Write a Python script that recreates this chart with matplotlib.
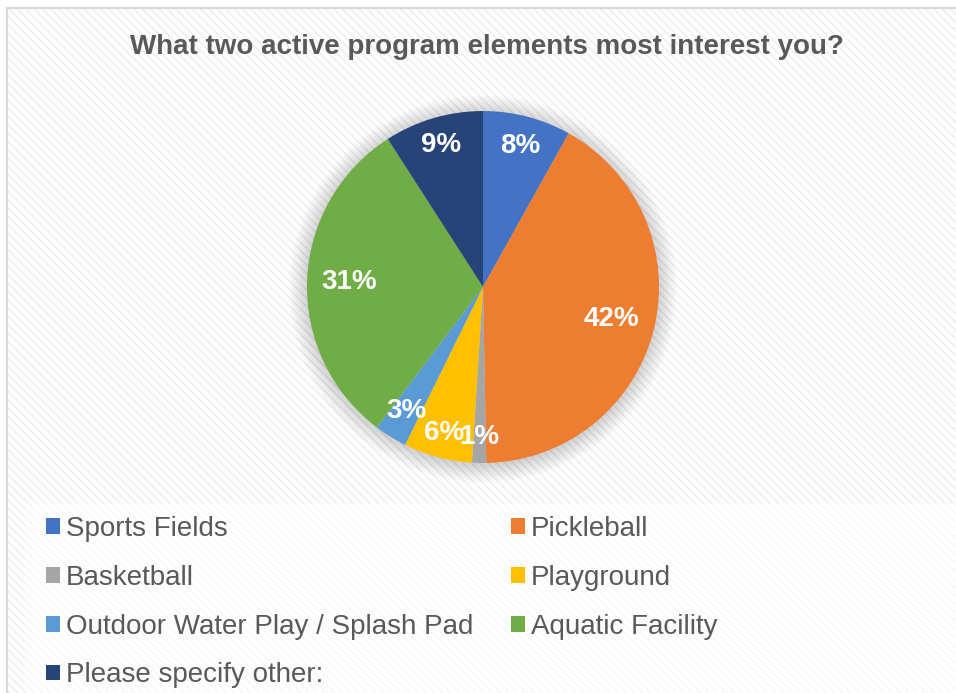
import matplotlib
matplotlib.use("Agg")
import matplotlib.pyplot as plt
from matplotlib.patches import Rectangle, Circle
import numpy as np

plt.rcParams['font.family'] = ['Liberation Sans', 'DejaVu Sans']
plt.rcParams['hatch.linewidth'] = 1.0

title = "What two active program elements most interest you?"
categories = ["Sports Fields", "Pickleball", "Basketball", "Playground",
              "Outdoor Water Play / Splash Pad", "Aquatic Facility",
              "Please specify other:"]
values = [8.1, 41.6, 1.3, 6.3, 3.0, 30.6, 9.1]
colors = ["#4472C4", "#ED7D31", "#A5A5A5", "#FFC000", "#5B9BD5", "#70AD47", "#264478"]
label_dist = [0.83, 0.75, 0.85, 0.86, 0.83, 0.76, 0.84]

W, H = 956, 693
fig = plt.figure(figsize=(W / 100, H / 100), dpi=100)
fig.patch.set_facecolor("white")

# chart area background with faint diagonal stripes
fig.patches.append(Rectangle((7 / W, -0.05), 1.1, (H - 8) / H + 0.05,
                             transform=fig.transFigure, facecolor="white",
                             edgecolor="#ececec", linewidth=0, hatch="\\\\\\\\",
                             zorder=-3))
fig.patches.append(Rectangle((7 / W, -0.05), 1.1, (H - 8) / H + 0.05,
                             transform=fig.transFigure, facecolor="none",
                             edgecolor="#d9d9d9", linewidth=1.5, zorder=-2))
# legend area
fig.patches.append(Rectangle((25 / W, -0.05), 1.1, (H - 503) / H + 0.05,
                             transform=fig.transFigure, facecolor="white",
                             edgecolor="none", alpha=0.6, zorder=-1))

fig.text(486.5 / W, 1 - 47.5 / H, title, ha="center", va="center",
         fontsize=20, fontweight="bold", color="#595959")

cx, cy, R = 483, 287, 176
ext = 1.2
ax = fig.add_axes([(cx - R * ext) / W, (H - cy - R * ext) / H,
                   2 * R * ext / W, 2 * R * ext / H])
ax.set_facecolor("none")

# soft shadow
for k in range(22):
    ax.add_patch(Circle((0, -0.01), 1.0 + k * 0.005, facecolor="#000000",
                        alpha=0.008, edgecolor="none", zorder=0))

wedges, _ = ax.pie(values, colors=colors, startangle=90, counterclock=False,
                   radius=1.0, wedgeprops=dict(linewidth=0, zorder=2))
for w in wedges:
    w.set_zorder(2)

total = sum(values)
cum = 0.0
for v, d in zip(values, label_dist):
    mid = (cum + v / 2) / total * 2 * np.pi
    cum += v
    ax.text(d * np.sin(mid), d * np.cos(mid), f"{round(v / total * 100)}%",
            ha="center", va="center", fontsize=20, fontweight="bold",
            color="white", zorder=5)

ax.set_xlim(-ext, ext)
ax.set_ylim(-ext, ext)
ax.set_aspect("equal")
ax.axis("off")

order = [0, 2, 4, 6, 1, 3, 5]
fig.legend([wedges[i] for i in order], [categories[i] for i in order],
           loc="upper left", bbox_to_anchor=(46 / W, 1 - 516 / H),
           ncol=2, frameon=False, fontsize=20, labelcolor="#595959",
           handlelength=0.5, handleheight=0.5, handletextpad=0.22,
           columnspacing=1.36, labelspacing=0.82, borderpad=0, borderaxespad=0)

fig.savefig("out.png", dpi=100)
